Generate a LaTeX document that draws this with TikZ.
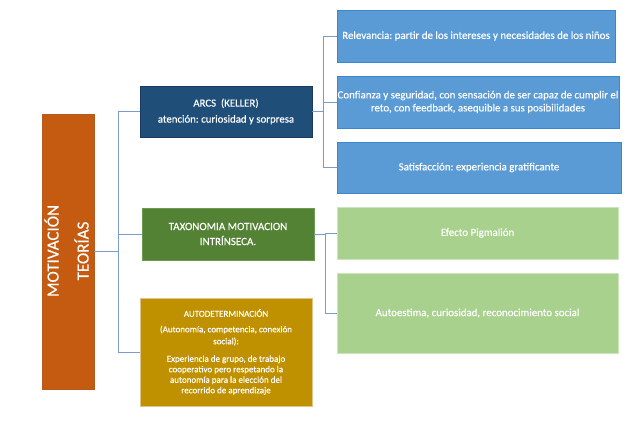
\documentclass[tikz,border=0pt]{standalone}
\usepackage{fontspec}
\setmainfont{Carlito}[FakeBold=0.3]
\frenchspacing
\definecolor{orangeF}{HTML}{C55A11}
\definecolor{orangeD}{HTML}{B65A1E}
\definecolor{navyF}{HTML}{1F4E79}
\definecolor{navyD}{HTML}{1A3A66}
\definecolor{grnF}{HTML}{548235}
\definecolor{grnD}{HTML}{6E9A50}
\definecolor{goldF}{HTML}{BF9000}
\definecolor{goldD}{HTML}{E0C48A}
\definecolor{blueF}{HTML}{5B9BD5}
\definecolor{blueD}{HTML}{3A86CF}
\definecolor{lgrnF}{HTML}{A9D18E}
\definecolor{lgrnD}{HTML}{CDE5BE}
\definecolor{connC}{HTML}{7A9CCB}
\tikzset{
  box/.style={rectangle, inner xsep=0pt, inner ysep=2pt, align=center, text=white, line width=0.7pt},
  conn/.style={draw=connC, line width=0.8pt},
}
\begin{document}
\begin{tikzpicture}[x=1pt, y=-1pt]
\useasboundingbox (0,0) rectangle (640,433);
% root
\node[box, fill=orangeF, draw=orangeD, minimum width=52pt, minimum height=275pt] (mot) at (68,251.5) {};
\node[rotate=90, align=center, text=white, font=\fontsize{17}{30}\selectfont] (motT) at (66.5,251) {MOTIVACIÓN\\TEORÍAS};
% level 1
\node[box, fill=navyF, draw=navyD, minimum width=172pt, minimum height=51pt, font=\fontsize{10.8}{16}\selectfont] (arcs) at (226,111.5) {ARCS\ \ (KELLER)\\atención: curiosidad y sorpresa};
\node[box, fill=grnF, draw=grnD, minimum width=172pt, minimum height=52pt, font=\fontsize{11}{15}\selectfont] (tax) at (228,234) {TAXONOMIA MOTIVACION\\INTRÍNSECA.};
\node[box, fill=goldF, draw=goldD, minimum width=172pt, minimum height=108pt, font=\fontsize{9}{10.5}\selectfont] (auto) at (226,352) {AUTODETERMINACIÓN\\[5pt](Autonomía, competencia, conexión\\[1.5pt]social):\\[7pt]Experiencia de grupo, de trabajo\\cooperativo pero respetando la\\autonomía para la elección del\\recorrido de aprendizaje};
% level 2 blue
\node[box, fill=blueF, draw=blueD, minimum width=278pt, minimum height=52pt, font=\fontsize{10.9}{13}\selectfont] (rel) at (476,36) {Relevancia: partir de los intereses y necesidades de los niños};
\node[box, fill=blueF, draw=blueD, minimum width=282pt, minimum height=52pt, font=\fontsize{10.9}{13}\selectfont] (conf) at (478,102) {Confianza y seguridad, con sensación de ser capaz de cumplir el\\reto, con feedback, asequible a sus posibilidades};
\node[box, fill=blueF, draw=blueD, minimum width=284pt, minimum height=51pt, font=\fontsize{10.9}{13}\selectfont] (sat) at (479,167.5) {Satisfacción: experiencia gratificante};
% level 2 green
\node[box, fill=lgrnF, draw=lgrnD, minimum width=281pt, minimum height=52pt, font=\fontsize{10.9}{13}\selectfont] (efe) at (477.5,233) {Efecto Pigmalión};
\node[box, fill=lgrnF, draw=lgrnD, minimum width=281pt, minimum height=80pt, font=\fontsize{10.9}{13}\selectfont] (aut2) at (477.5,313) {Autoestima, curiosidad, reconocimiento social};
% connectors
\coordinate (t1) at (118,251.5);
\coordinate (t2) at (323,111.5);
\coordinate (t3) at (325,234);
\draw[conn] (mot.east) -- (t1);
\draw[conn] (t1) |- (arcs.west);
\draw[conn] (t1) |- (tax.west);
\draw[conn] (t1) |- (auto.west);
\draw[conn] (arcs.east) -- (t2);
\draw[conn] (t2) |- (rel.west);
\draw[conn] (t2) |- (conf.west);
\draw[conn] (t2) |- (sat.west);
\draw[conn] (tax.east) -- (t3);
\draw[conn] (t3) |- (efe.west);
\draw[conn] (t3) |- (aut2.west);
\end{tikzpicture}
\end{document}
